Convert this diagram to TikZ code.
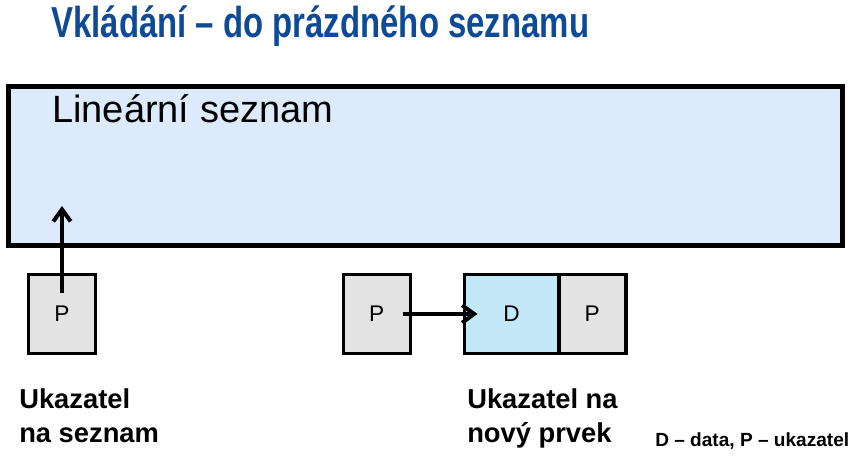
\documentclass[tikz,border=0pt]{standalone}
\usepackage{fontspec}
\setmainfont{Liberation Sans}
\newfontfamily\titlefont[FakeStretch=0.76]{Liberation Sans}
\usetikzlibrary{positioning,arrows.meta}
\definecolor{titleblue}{RGB}{14,74,150}
\definecolor{listfill}{RGB}{221,234,251}
\definecolor{datafill}{RGB}{195,233,248}
\definecolor{ptrfill}{RGB}{227,227,227}
\begin{document}
\begin{tikzpicture}[
    x=0.75pt, y=0.75pt,
    title/.style={font=\titlefont\bfseries\fontsize{32.5}{38}\selectfont, text=titleblue, anchor=base west, inner sep=0pt},
    listbox/.style={rectangle, draw, line width=3.4pt, fill=listfill, minimum width=625.5pt, minimum height=118.9pt},
    cell/.style={rectangle, draw, line width=2.6pt, fill=ptrfill, minimum width=50.25pt, minimum height=59.25pt, outer sep=0pt, inner sep=0pt, font=\fontsize{17}{19}\selectfont},
    caption/.style={font=\bfseries\fontsize{20.5}{25.5}\selectfont, align=left, anchor=base west, inner sep=0pt},
    arrow/.style={line width=3pt, -{Straight Barb[length=9pt,width=13pt]}},
]
    \useasboundingbox (0,0) rectangle (854,460);
    \node[title] (head) at (51,422) {Vkládání – do prázdného seznamu};

    % the list
    \node[listbox] (list) at (425.5,294) {};
    \node[anchor=base west, inner sep=0pt, font=\fontsize{28.5}{34}\selectfont] (lname) at (52,337) {Lineární seznam};

    % pointer to the list
    \node[cell] (p1) at (62,146) {P};
    \coordinate (entry) at (62,254);
    \draw[arrow] ([yshift=15.75pt]p1.center) -- (entry);

    % new element
    \node[cell, fill=datafill, minimum width=70.9pt] (d) at (511.5,146) {D};
    \node[cell, right=0pt of d] (p3) {P};
    \node[cell, left=40.5pt of d] (p2) {P};
    \draw[arrow] ([xshift=19.5pt]p2.center) -- ([xshift=10pt]d.west);

    \node[caption] (c1) at (19,17) {Ukazatel\\na seznam};
    \node[caption] (c2) at (467,17) {Ukazatel na\\nový prvek};
    \node[anchor=base west, inner sep=0pt, font=\bfseries\fontsize{14.3}{17}\selectfont] (legend) at (655,13) {D – data, P – ukazatel};
\end{tikzpicture}
\end{document}
